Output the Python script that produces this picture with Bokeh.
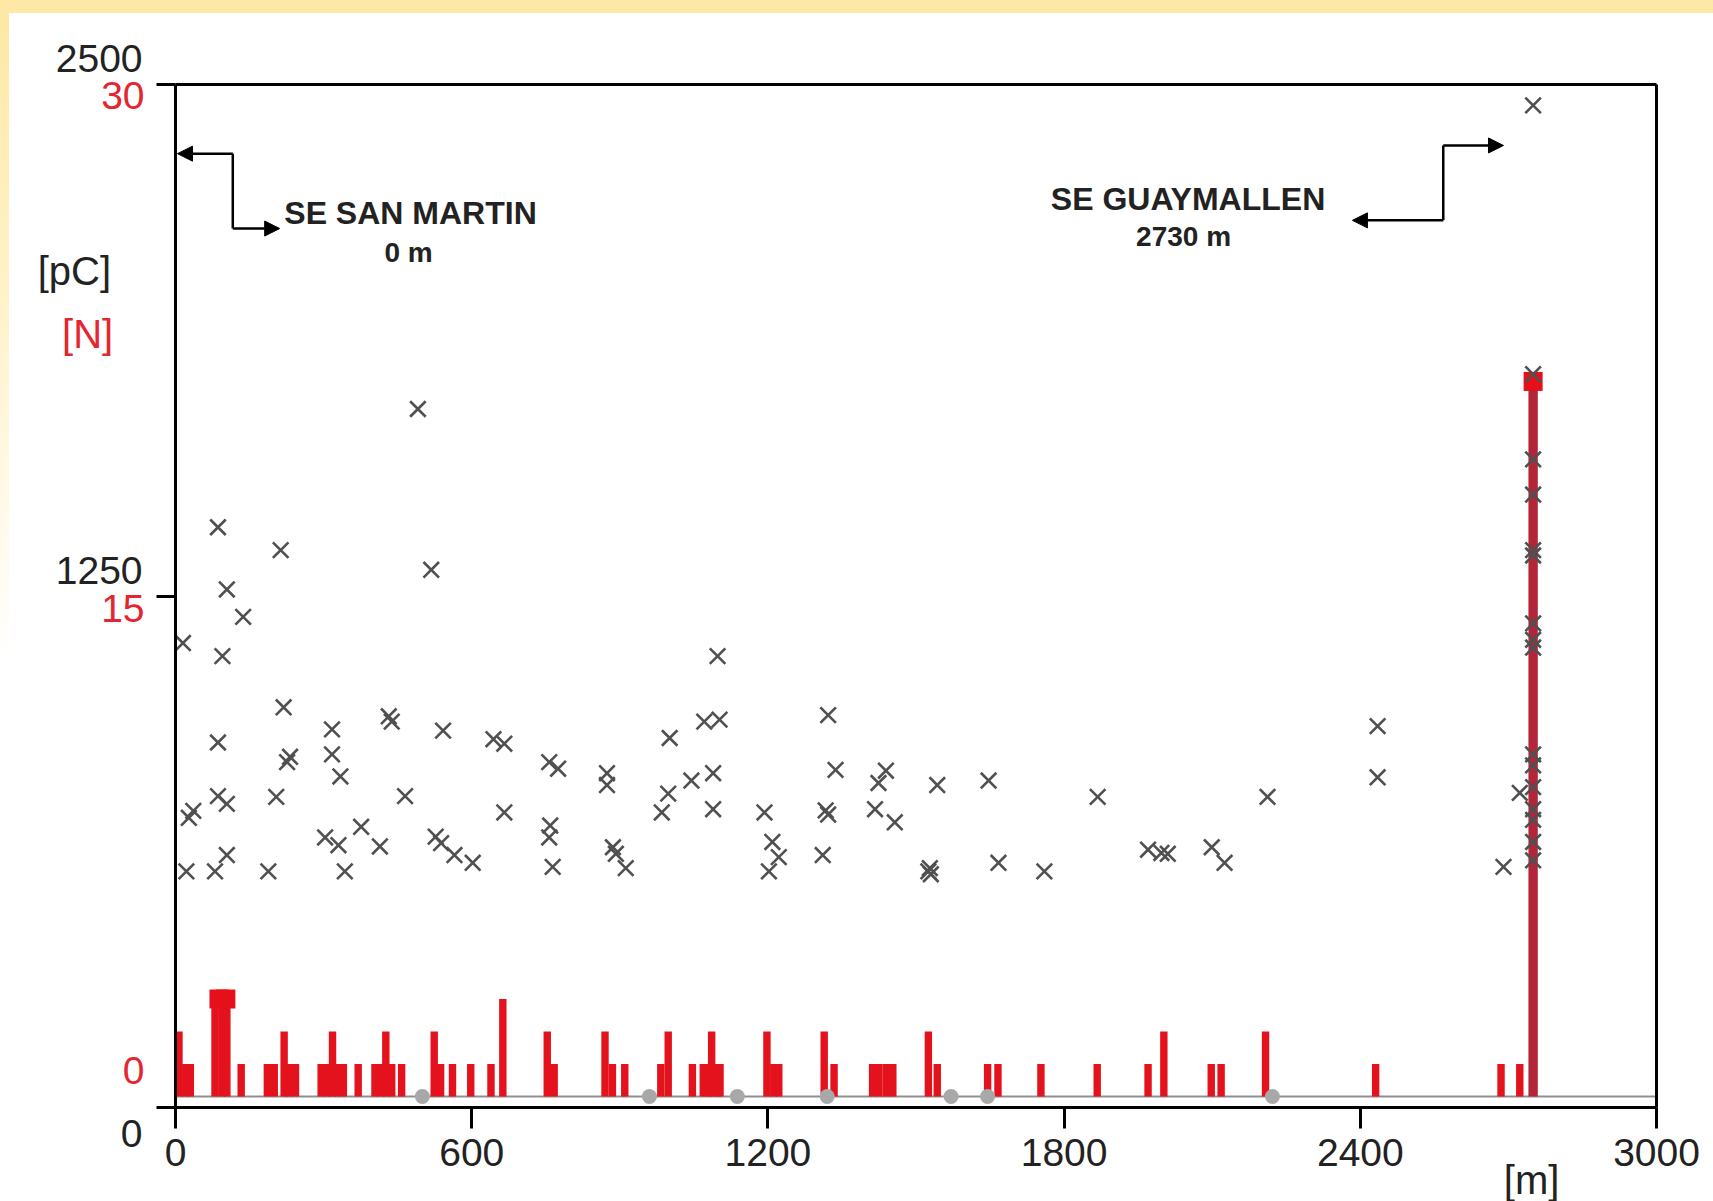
from bokeh.plotting import figure
from bokeh.models import Range1d, LinearAxis, FixedTicker, Span, Arrow, NormalHead, Label, Spacer
from bokeh.layouts import column, row
from bokeh.embed import file_html
from bokeh.resources import INLINE

# ---------------- data ----------------
x_ticks = [0, 600, 1200, 1800, 2400, 3000]      # [m]
pc_ticks = [0, 1250, 2500]                      # [pC]
n_ticks = [0, 15, 30]                           # [N]

# partial discharge charge [pC] (grey crosses)
pd_x = [15, 22, 27, 36,
        80, 86, 86, 86, 95, 104, 104, 104, 137,
        188, 204, 213, 219, 226, 232,
        303, 317, 317, 330, 334, 343, 376, 414, 432, 438, 465,
        491, 518, 527, 538, 542, 565, 602,
        644, 666, 666,
        757, 775, 759, 757, 764,
        874, 874, 886, 892, 912,
        985, 998, 1001, 1045, 1071, 1089, 1089, 1098, 1102,
        1193, 1209, 1222, 1202,
        1311, 1322, 1317, 1322, 1337,
        1417, 1424, 1439, 1457,
        1525, 1530, 1528, 1543,
        1647, 1667, 1760, 1868,
        1970, 1997, 2010, 2099, 2125, 2212,
        2435, 2435,
        2690, 2723,
        2750, 2750, 2750, 2750, 2750, 2750, 2750, 2750, 2750,
        2750, 2750, 2750, 2750, 2750, 2750, 2750]
pd_pc = [1135, 577, 708, 725,
         577, 1418, 892, 761, 1103, 1266, 742, 617, 1199,
         577, 759, 1362, 978, 844, 857,
         660, 924, 863, 641, 809, 577, 686, 638, 956, 943, 761,
         1707, 1314, 662, 646, 921, 617, 598,
         900, 889, 721,
         844, 828, 689, 660, 588,
         817, 788, 636, 620, 585,
         721, 767, 903, 799, 943, 817, 729, 1103, 948,
         721, 649, 612, 577,
         617, 959, 726, 716, 825,
         729, 793, 823, 697,
         577, 570, 585, 788,
         799, 598, 577, 759,
         630, 622, 620, 636, 598, 759,
         932, 807,
         588, 769,
         2449, 1792, 1584, 1498, 1362, 1349, 1183, 1143, 1124,
         863, 836, 783, 729, 703, 649, 604]

# number of discharges [N] per position (red bars)
bar_x = [7, 20, 30, 80, 94, 104, 133,
         186, 200, 220, 230, 243,
         295, 308, 318, 328, 340,
         370, 404, 416, 426, 438, 458,
         524, 537, 561, 598, 639, 663,
         753, 767,
         870, 885, 910, 983, 998,
         1047, 1069, 1080, 1086, 1097, 1103,
         1198, 1212, 1222, 1314, 1334,
         1412, 1425, 1440, 1453,
         1525, 1543, 1645, 1666,
         1753, 1867, 1970, 2002, 2098, 2118, 2208, 2431,
         2685, 2723]
bar_n = [2, 1, 1, 3, 3, 3, 1,
         1, 1, 2, 1, 1,
         1, 1, 2, 1, 1,
         1, 1, 1, 2, 1, 1,
         2, 1, 1, 1, 1, 3,
         2, 1,
         2, 1, 1, 1, 2,
         1, 1, 1, 2, 1, 1,
         2, 1, 1, 2, 1,
         1, 1, 1, 1,
         2, 1, 1, 1,
         1, 1, 1, 2, 1, 1, 2, 1,
         1, 1]

# accumulation at the cable end (SE Guaymallen)
end_x = [2750]
end_n = [22]
cap_x = [88, 102, 2750]
cap_n = [3, 3, 22]

# measured positions without discharges (grey dots)
zero_x = [500, 960, 1138, 1320, 1571, 1645, 2222]
zero_n = [0, 0, 0, 0, 0, 0, 0]

# annotation geometry (data units: m, pC)
left_arrow = [(116, 2331), (4, 2331), (116, 2148), (211, 2148)]
right_arrow = [(2568, 2168), (2384, 2168), (2568, 2351), (2690, 2351)]

FONT = "Liberation Sans"
TXT = "#222222"
RED_TXT = "#e3262f"

# The frame covers the whole canvas; axes are placed at fixed data locations.
p = figure(width=1704, height=1188,
           x_range=Range1d(-336.3, 3115.4), y_range=Range1d(-229.7, 2673.5),
           x_axis_location=None, y_axis_location=None,
           output_backend="svg", toolbar_location=None,
           min_border=0)
p.extra_y_ranges = {"N": Range1d(-3.23, 33.32)}
p.grid.visible = False
p.background_fill_color = "white"
p.border_fill_color = "white"
p.outline_line_color = None

def style_axis(ax, size="39px", color=TXT):
    ax.minor_tick_line_color = None
    ax.major_tick_in = 0
    ax.axis_line_width = 3
    ax.major_tick_line_width = 3
    ax.axis_line_color = "black"
    ax.major_tick_line_color = "black"
    ax.major_label_text_font = FONT
    ax.major_label_text_font_size = size
    ax.major_label_text_color = color

xa = LinearAxis(ticker=FixedTicker(ticks=x_ticks), fixed_location=0, bounds=(0, 3000))
style_axis(xa)
xa.major_tick_out = 21
xa.major_label_standoff = 10
p.add_layout(xa, "below")

ya = LinearAxis(ticker=FixedTicker(ticks=pc_ticks), fixed_location=0, bounds=(0, 2500))
style_axis(ya)
ya.major_label_overrides = {2500: "2500\n ", 1250: "1250\n ", 0: " \n0"}
ya.major_tick_out = 19
ya.major_label_standoff = 14
p.add_layout(ya, "left")

na = LinearAxis(y_range_name="N", ticker=FixedTicker(ticks=n_ticks), fixed_location=0)
style_axis(na, color=RED_TXT)
na.major_label_overrides = {30: "30\n ", 15: "15", 0: "0\n "}
na.axis_line_color = None
na.major_tick_line_color = None
na.major_tick_out = 0
na.major_label_standoff = 31
p.add_layout(na, "left")

# top and right frame lines
ta = LinearAxis(ticker=FixedTicker(ticks=[]), fixed_location=2500, bounds=(0, 3000))
style_axis(ta)
p.add_layout(ta, "above")
ra = LinearAxis(ticker=FixedTicker(ticks=[]), fixed_location=3000, bounds=(0, 2500))
style_axis(ra)
p.add_layout(ra, "right")

# baseline for N = 0
p.segment(x0=[0], y0=[0], x1=[3000], y1=[0], y_range_name="N",
          line_color="#8f8f8f", line_width=2)

# red bars
p.vbar(x=bar_x, top=bar_n, bottom=0, width=15, y_range_name="N",
       fill_color="#e3121c", line_color=None)
p.vbar(x=end_x, top=end_n, bottom=0, width=19, y_range_name="N",
       fill_color="#b3263a", line_color=None)
p.scatter(x=cap_x, y=cap_n, y_range_name="N", marker="square", size=19,
          fill_color="#e6101a", line_color=None)

# grey dots
p.scatter(x=zero_x, y=zero_n, y_range_name="N", marker="circle", size=15,
          fill_color="#a8a8a8", line_color=None)

# grey crosses (pC)
p.scatter(x=pd_x, y=pd_pc, marker="x", size=22, line_color="#505050", line_width=2.6)

# arrows
head = dict(size=15, fill_color="black", line_color="black")
for pts in (left_arrow, right_arrow):
    (xs, ys), (xt, yt), (xc, yc), (xe, ye) = pts
    p.add_layout(Arrow(end=NormalHead(**head), x_start=xs, y_start=ys, x_end=xt, y_end=yt,
                       line_width=2.5, line_color="black"))
    p.add_layout(Arrow(end=None, x_start=xs, y_start=ys, x_end=xc, y_end=yc,
                       line_width=2.5, line_color="black"))
    p.add_layout(Arrow(end=NormalHead(**head), x_start=xc, y_start=yc, x_end=xe, y_end=ye,
                       line_width=2.5, line_color="black"))

def lab(x, y, t, size, color=TXT, bold=False):
    p.add_layout(Label(x=x, y=y, text=t, text_align="center", text_baseline="middle",
                       text_font=FONT, text_font_size=size, text_color=color,
                       text_font_style="bold" if bold else "normal"))

lab(476, 2185, "SE SAN MARTIN", "32px", bold=True)
lab(472, 2090, "0 m", "28px", bold=True)
lab(2051, 2219, "SE GUAYMALLEN", "32px", bold=True)
lab(2042, 2129, "2730 m", "28px", bold=True)
lab(-205, 2045, "[pC]", "40px")
lab(-178, 1891, "[N]", "40px", color=RED_TXT)
lab(2747, -178, "[m]", "40px")

top = Spacer(width=1713, height=13, styles={"background-color": "#FDE8A5"})
left = Spacer(width=9, height=1188,
              styles={"background": "linear-gradient(#FDE8A5, #FFF3CC 25%, #FFFFFF 55%)"})
layout = column(top, row(left, p))

open("out.html", "w").write(file_html(layout, INLINE))
